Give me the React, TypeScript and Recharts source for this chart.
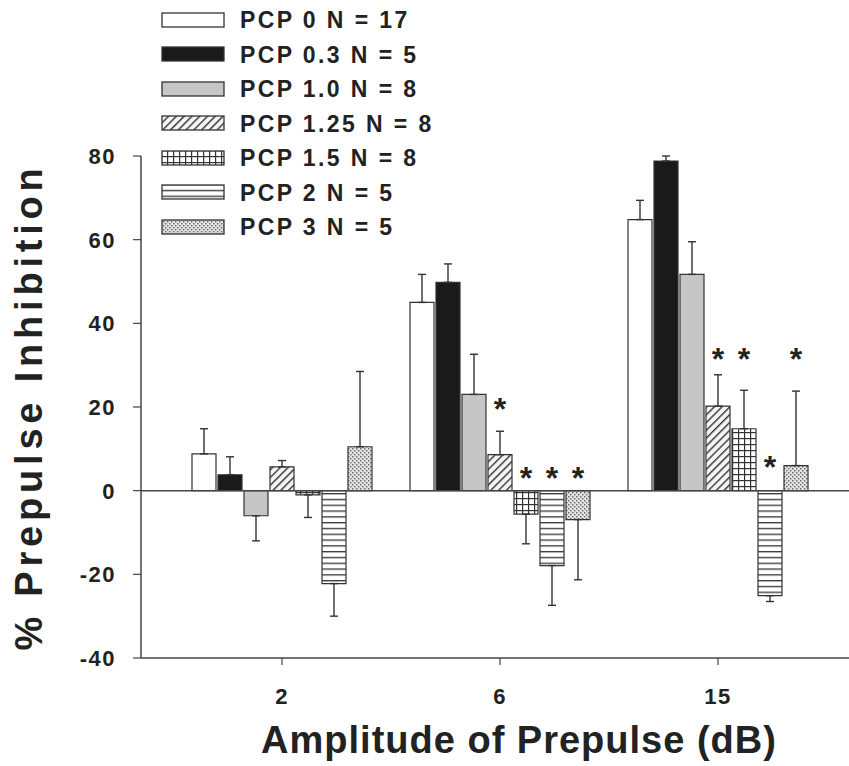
import React from 'react';
import { BarChart, Bar, XAxis, YAxis, ErrorBar, ReferenceLine, Legend, LabelList, Label } from 'recharts';

const categories = ['2', '6', '15'];
const seriesNames = [
  'PCP 0 N = 17',
  'PCP 0.3 N = 5',
  'PCP 1.0 N = 8',
  'PCP 1.25 N = 8',
  'PCP 1.5 N = 8',
  'PCP 2 N = 5',
  'PCP 3 N = 5',
];
const pcp0 = [8.8, 45.0, 64.8];
const pcp03 = [3.8, 49.8, 78.8];
const pcp10 = [-6.0, 23.0, 51.7];
const pcp125 = [5.7, 8.6, 20.2];
const pcp15 = [-1.0, -5.6, 14.8];
const pcp2 = [-22.2, -17.9, -25.1];
const pcp3 = [10.5, -6.9, 6.0];

const err0 = [6.0, 6.7, 4.6];
const err03 = [4.3, 4.4, 1.2];
const err10 = [6.0, 9.6, 7.8];
const err125 = [1.5, 5.6, 7.5];
const err15 = [5.4, 7.1, 9.2];
const err2 = [7.8, 9.5, 1.4];
const err3 = [18.0, 14.4, 17.8];

// significance markers (value level of the asterisk), null = none
const star0 = [null, null, null];
const star03 = [null, null, null];
const star10 = [null, null, null];
const star125 = [null, 21, 33];
const star15 = [null, 4.5, 33];
const star2 = [null, 4.5, 7];
const star3 = [null, 4.5, 33];

const yTicks = [-40, -20, 0, 20, 40, 60, 80];

const values = [pcp0, pcp03, pcp10, pcp125, pcp15, pcp2, pcp3];
const errors = [err0, err03, err10, err125, err15, err2, err3];
const stars = [star0, star03, star10, star125, star15, star2, star3];
const fills = ['#ffffff', '#1a1a1a', '#c6c6c6', 'url(#pHatch)', 'url(#pGrid)', 'url(#pHoriz)', 'url(#pDots)'];

const data = categories.map((cat, i) => {
  const row: any = { cat };
  values.forEach((arr, k) => {
    const v = arr[i];
    const e = errors[k][i];
    row[`v${k}`] = v;
    row[`e${k}`] = v >= 0 ? [0, e] : [e, 0];
    row[`s${k}`] = stars[k][i];
  });
  return row;
});

const FONT = '"Liberation Sans", Arial, Helvetica, sans-serif';
const INK = '#222222';
const LINE = '#444444';

const StarMark = (props: any) => {
  const { value } = props;
  if (value == null || value === '') return null;
  const parts = String(value).split('|');
  if (parts.length < 2) return null;
  const v = Number(parts[0]);
  const s = Number(parts[1]);
  if (!isFinite(s) || !isFinite(v) || v === 0) return null;
  const vb = props.viewBox && props.viewBox.width != null ? props.viewBox : props;
  const { x, y, width, height } = vb;
  const top = Math.min(y, y + height);
  const bottom = Math.max(y, y + height);
  const zeroY = v >= 0 ? bottom : top;
  const ppu = (bottom - top) / Math.abs(v);
  const cy = zeroY - s * ppu;
  return (
    <text x={x + width / 2} y={cy + 17} textAnchor="middle" fontSize={32} fontWeight="bold" fontFamily={FONT} fill={INK}>
      *
    </text>
  );
};

const YTick = (props: any) => {
  const { x, y, payload } = props;
  return (
    <text x={x} y={y} dy="0.36em" textAnchor="end" fontSize={22} fontWeight="bold" fontFamily={FONT} fill={INK} letterSpacing={1.5}>
      {payload.value}
    </text>
  );
};

const XTick = (props: any) => {
  const { x, y, payload } = props;
  return (
    <text x={x} y={y} dy="0.71em" textAnchor="middle" fontSize={22} fontWeight="bold" fontFamily={FONT} fill={INK} letterSpacing={1.5}>
      {payload.value}
    </text>
  );
};

const YTitle = (props: any) => {
  const vb = props.viewBox || { x: 81, y: 156, width: 60, height: 502 };
  const cx = vb.x - 39;
  const cy = vb.y + vb.height / 2;
  return (
    <text
      x={cx}
      y={cy}
      transform={`rotate(-90, ${cx}, ${cy})`}
      textAnchor="middle"
      fontSize={38}
      fontWeight="bold"
      fontFamily={FONT}
      fill={INK}
      letterSpacing={4.8}
    >
      % Prepulse Inhibition
    </text>
  );
};

const XTitle = (props: any) => {
  const vb = props.viewBox || { x: 141, y: 658, width: 708, height: 108 };
  const cx = vb.x + vb.width / 2 + 24;
  const cy = vb.y + 95;
  return (
    <text x={cx} y={cy} textAnchor="middle" fontSize={38} fontWeight="bold" fontFamily={FONT} fill={INK} letterSpacing={1}>
      Amplitude of Prepulse (dB)
    </text>
  );
};

const LegendContent = (props: any) => {
  const payload = (props.payload && props.payload.length ? props.payload : seriesNames.map((n, i) => ({ value: n, color: fills[i] }))) as any[];
  return (
    <div style={{ fontFamily: FONT }}>
      {payload.map((p: any, i: number) => {
        const idx = seriesNames.indexOf(p.value);
        const fill = idx >= 0 ? fills[idx] : p.color;
        return (
          <div key={i} style={{ display: 'flex', alignItems: 'center', height: 34.5 }}>
            <svg width={64} height={17} style={{ display: 'block' }}>
              <rect x={1} y={1} width={62} height={14} fill={fill} stroke="#333" strokeWidth={1.3} />
            </svg>
            <span
              style={{
                marginLeft: 15,
                fontSize: 23,
                fontWeight: 'bold',
                color: INK,
                letterSpacing: 2.4,
                whiteSpace: 'nowrap',
                lineHeight: '22px',
              }}
            >
              {p.value}
            </span>
          </div>
        );
      })}
    </div>
  );
};

export default function App() {
  return (
    <div style={{ position: 'absolute', left: 0, top: 0, width: 849, height: 766, background: '#fff' }}>
      <BarChart
        width={849}
        height={766}
        data={data}
        margin={{ top: 156, right: 0, bottom: 0, left: 81 }}
        barSize={24}
        barGap={2}
        style={{ fontFamily: FONT }}
      >
        <defs>
          <pattern id="pHatch" patternUnits="userSpaceOnUse" width={5.5} height={5.5} patternTransform="rotate(45)">
            <rect x={0} y={0} width={5.5} height={5.5} fill="#f4f4f4" />
            <line x1={0.7} y1={0} x2={0.7} y2={5.5} stroke="#333" strokeWidth={1.4} />
          </pattern>
          <pattern id="pGrid" patternUnits="userSpaceOnUse" width={6} height={6}>
            <rect x={0} y={0} width={6} height={6} fill="#ffffff" />
            <line x1={0} y1={0.6} x2={6} y2={0.6} stroke="#333" strokeWidth={1.2} />
            <line x1={0.6} y1={0} x2={0.6} y2={6} stroke="#333" strokeWidth={1.2} />
          </pattern>
          <pattern id="pHoriz" patternUnits="userSpaceOnUse" width={6} height={5.8}>
            <rect x={0} y={0} width={6} height={5.8} fill="#ffffff" />
            <line x1={0} y1={0.7} x2={6} y2={0.7} stroke="#333" strokeWidth={1.3} />
          </pattern>
          <pattern id="pDots" patternUnits="userSpaceOnUse" width={4} height={4}>
            <rect x={0} y={0} width={4} height={4} fill="#e2e2e2" />
            <rect x={0} y={0} width={1.4} height={1.4} fill="#666" />
            <rect x={2} y={2} width={1.4} height={1.4} fill="#666" />
          </pattern>
        </defs>
        <XAxis
          dataKey="cat"
          height={108}
          padding={{ left: 32, right: 22 }}
          axisLine={{ stroke: LINE, strokeWidth: 1.5 }}
          tickLine={{ stroke: LINE, strokeWidth: 1.2 }}
          tickSize={7}
          tickMargin={23}
          tick={<XTick />}
          interval={0}
        >
          <Label content={<XTitle />} />
        </XAxis>
        <YAxis
          width={60}
          type="number"
          domain={[-40, 80]}
          ticks={yTicks}
          interval={0}
          allowDataOverflow
          axisLine={{ stroke: LINE, strokeWidth: 1.5 }}
          tickLine={{ stroke: LINE, strokeWidth: 1.2 }}
          tickSize={8}
          tickMargin={17}
          tick={<YTick />}
        >
          <Label content={<YTitle />} />
        </YAxis>
        <ReferenceLine y={0} stroke={LINE} strokeWidth={1.5} />
        <Legend
          layout="vertical"
          align="center"
          verticalAlign="middle"
          content={<LegendContent />}
          wrapperStyle={{ position: 'absolute', top: 3, left: 161, width: 320, height: 245 }}
        />
        {seriesNames.map((name, k) => (
          <Bar
            key={name}
            dataKey={`v${k}`}
            name={name}
            fill={fills[k]}
            stroke="#333"
            strokeWidth={1.2}
            isAnimationActive={false}
          >
            <ErrorBar dataKey={`e${k}`} direction="y" width={4} stroke="#333" strokeWidth={1.4} />
            <LabelList
              dataKey={(row: any) => (row[`s${k}`] == null ? null : `${row[`v${k}`]}|${row[`s${k}`]}`)}
              content={<StarMark />}
            />
          </Bar>
        ))}
      </BarChart>
    </div>
  );
}
